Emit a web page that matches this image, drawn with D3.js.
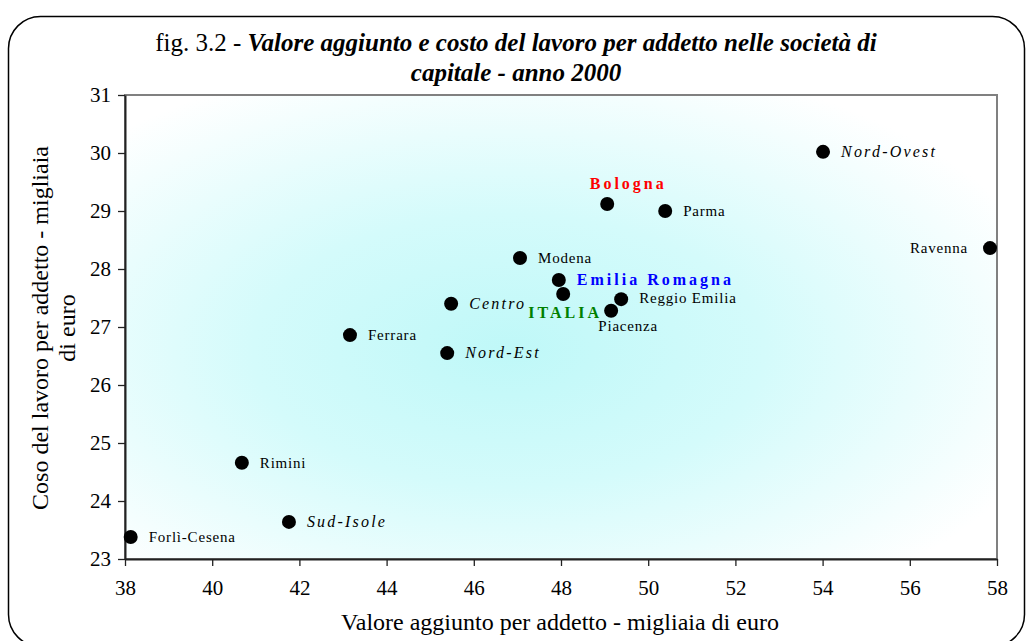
<!DOCTYPE html>
<html>
<head>
<meta charset="utf-8">
<script src="https://cdn.jsdelivr.net/npm/d3@7"></script>
<style>
  html, body { margin: 0; padding: 0; background: #fff; }
  #chart { width: 1026px; height: 641px; }
  text { font-family: "Liberation Serif", "Times New Roman", serif; }
</style>
</head>
<body>
<div id="chart"></div>
<script>
///// DATI /////
let regioni = ['Forlì-Cesena', 'Rimini', 'Sud-Isole', 'Ferrara', 'Nord-Est', 'Centro', 'Modena', 'Emilia Romagna', 'ITALIA', 'Piacenza', 'Reggio Emilia', 'Bologna', 'Parma', 'Nord-Ovest', 'Ravenna'];
let valoreAggiunto = [38.13, 40.68, 41.76, 43.16, 45.39, 45.48, 47.06, 47.95, 48.05, 49.15, 49.38, 49.06, 50.39, 54.01, 57.84];
let costoLavoro = [23.38, 24.66, 23.64, 26.86, 26.55, 27.40, 28.19, 27.81, 27.57, 27.28, 27.48, 29.12, 29.00, 30.02, 28.36];
let xTicks = [38, 40, 42, 44, 46, 48, 50, 52, 54, 56, 58];
let yTicks = [23, 24, 25, 26, 27, 28, 29, 30, 31];

///// STILE DELLE ETICHETTE (posizione relativa al punto) /////
let etichette = {
    'Forlì-Cesena':   {dx: 18, dy: 5, anchor: 'start'},
    'Rimini':         {dx: 18, dy: 5, anchor: 'start'},
    'Sud-Isole':      {dx: 18, dy: 5, anchor: 'start', italic: true},
    'Ferrara':        {dx: 18, dy: 5, anchor: 'start'},
    'Nord-Est':       {dx: 18, dy: 5, anchor: 'start', italic: true},
    'Centro':         {dx: 18, dy: 5, anchor: 'start', italic: true},
    'Modena':         {dx: 18, dy: 5, anchor: 'start'},
    'Emilia Romagna': {dx: 18, dy: 5, anchor: 'start', bold: true, color: '#0000ff'},
    'ITALIA':         {dx: 2, dy: 24, anchor: 'middle', bold: true, color: '#008000'},
    'Piacenza':       {dx: 17, dy: 20, anchor: 'middle'},
    'Reggio Emilia':  {dx: 18, dy: 4, anchor: 'start'},
    'Bologna':        {dx: 21, dy: -15, anchor: 'middle', bold: true, color: '#ff0000'},
    'Parma':          {dx: 18, dy: 5, anchor: 'start'},
    'Nord-Ovest':     {dx: 18, dy: 5, anchor: 'start', italic: true},
    'Ravenna':        {dx: -22, dy: 5, anchor: 'end'}
};

let margin = {top: 95, right: 29, bottom: 82, left: 125};
let W = 1026, H = 641;
let width = W - margin.left - margin.right,
    height = H - margin.top - margin.bottom;

let svg = d3.select('#chart')
    .append('svg')
        .attr('width', W)
        .attr('height', H);

//Cornice arrotondata
svg.append('rect')
    .attr('x', 8.5).attr('y', 16.5)
    .attr('width', 1016).attr('height', 630)
    .attr('rx', 32).attr('ry', 32)
    .attr('fill', '#fff')
    .attr('stroke', '#000')
    .attr('stroke-width', 1.5);

//Gradiente dello sfondo
let defs = svg.append('defs');
let grad = defs.append('radialGradient')
    .attr('id', 'bg')
    .attr('cx', '0.44').attr('cy', '0.55')
    .attr('r', '0.65');
grad.append('stop').attr('offset', '0%').attr('stop-color', '#bff8f8');
grad.append('stop').attr('offset', '45%').attr('stop-color', '#d4fbfb');
grad.append('stop').attr('offset', '100%').attr('stop-color', '#ffffff');

//Titolo
let title = svg.append('text')
    .attr('x', 516).attr('y', 51)
    .attr('text-anchor', 'middle')
    .style('font-size', '25px');
title.append('tspan').text('fig. 3.2 - ');
title.append('tspan').style('font-weight', 'bold').style('font-style', 'italic')
    .text('Valore aggiunto e costo del lavoro per addetto nelle società di');
svg.append('text')
    .attr('x', 516).attr('y', 81)
    .attr('text-anchor', 'middle')
    .style('font-size', '25px').style('font-weight', 'bold').style('font-style', 'italic')
    .text('capitale - anno 2000');

let chart = svg.append('g')
    .attr('transform', 'translate(' + margin.left + ',' + margin.top + ')');

let x = d3.scaleLinear().domain([38, 58]).range([0, width]);
let y = d3.scaleLinear().domain([23, 31]).range([height, 0]);

chart.append('rect')
    .attr('width', width).attr('height', height)
    .attr('fill', 'url(#bg)')
    .attr('stroke', '#808080')
    .attr('stroke-width', 2);

//Assi
let xAxis = chart.append('g')
    .attr('transform', 'translate(0,' + height + ')')
    .call(d3.axisBottom(x).tickValues(xTicks).tickSize(7).tickPadding(14).tickSizeOuter(0));
let yAxis = chart.append('g')
    .call(d3.axisLeft(y).tickValues(yTicks).tickSize(7).tickPadding(7).tickSizeOuter(0));

[xAxis, yAxis].forEach(function(a) {
    a.select('.domain').attr('stroke', '#222').attr('stroke-width', 2);
    a.selectAll('.tick line').attr('stroke', '#222').attr('stroke-width', 1.3);
    a.selectAll('.tick text')
        .attr('fill', '#000')
        .style('font-family', '"Liberation Serif", serif')
        .style('font-size', '21px');
});

//Titoli degli assi
svg.append('text')
    .attr('x', 560).attr('y', 630)
    .attr('text-anchor', 'middle')
    .style('font-size', '24px')
    .text('Valore aggiunto per addetto - migliaia di euro');

let yTitle = svg.append('text')
    .attr('transform', 'translate(48,328) rotate(-90)')
    .attr('text-anchor', 'middle')
    .style('font-size', '24px');
yTitle.append('tspan').attr('x', 0).attr('dy', 0).text('Coso del lavoro per addetto - migliaia');
yTitle.append('tspan').attr('x', 0).attr('dy', 27).text('di euro');

//Punti
let punti = regioni.map(function(r, i) {
    return {nome: r, x: valoreAggiunto[i], y: costoLavoro[i]};
});

chart.selectAll('.dot')
    .data(punti)
    .enter()
    .append('circle')
    .attr('class', 'dot')
    .attr('cx', function(d) { return x(d.x); })
    .attr('cy', function(d) { return y(d.y); })
    .attr('r', 7)
    .attr('fill', '#000');

chart.selectAll('.lbl')
    .data(punti)
    .enter()
    .append('text')
    .attr('class', 'lbl')
    .attr('x', function(d) { return x(d.x) + etichette[d.nome].dx; })
    .attr('y', function(d) { return y(d.y) + etichette[d.nome].dy; })
    .attr('text-anchor', function(d) { return etichette[d.nome].anchor; })
    .attr('fill', function(d) { return etichette[d.nome].color || '#000'; })
    .style('font-size', function(d) {
        let e = etichette[d.nome];
        return e.bold ? '16px' : (e.italic ? '16px' : '15px');
    })
    .style('font-weight', function(d) { return etichette[d.nome].bold ? 'bold' : 'normal'; })
    .style('font-style', function(d) { return etichette[d.nome].italic ? 'italic' : 'normal'; })
    .style('letter-spacing', function(d) {
        let e = etichette[d.nome];
        return e.bold ? '3px' : (e.italic ? '2.2px' : '0.8px');
    })
    .text(function(d) { return d.nome; });
</script>
</body>
</html>
